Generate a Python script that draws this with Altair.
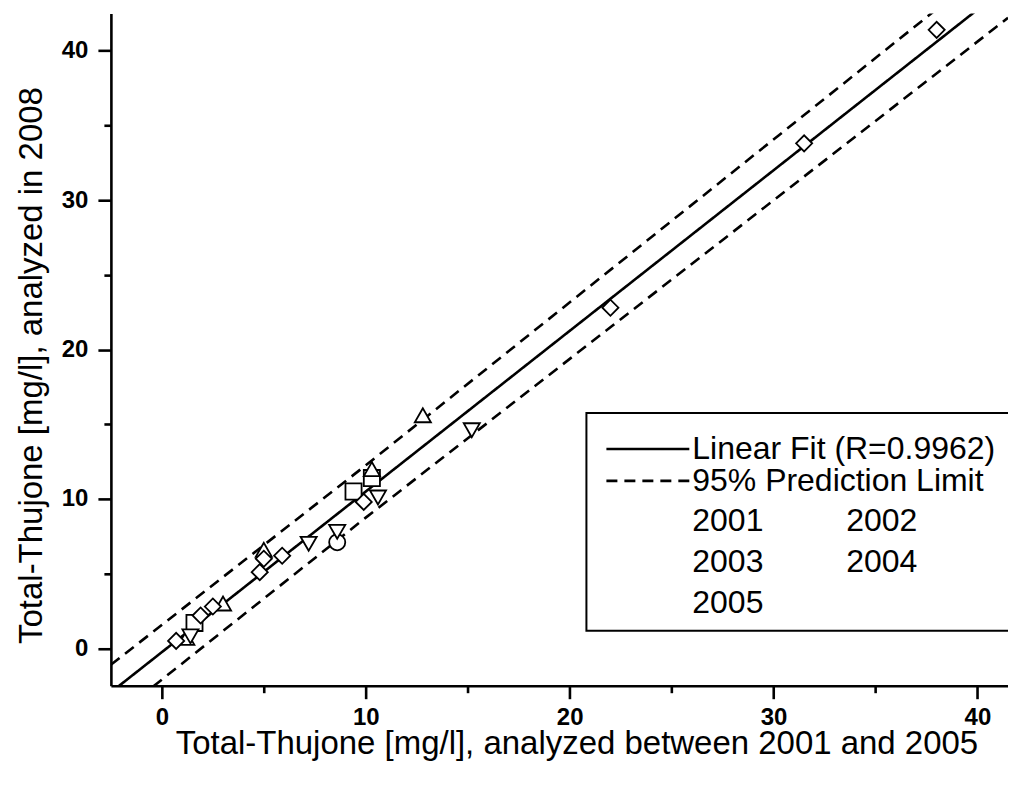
import altair as alt
import pandas as pd

# ---- data ----
LF = "Linear Fit (R=0.9962)"
PL = "95% Prediction Limit"

fit_x = [-2.5, 41.5]
fit_y = [-2.94, 44.36]
upper_x = [-2.5, 10.0, 41.5]
upper_y = [-1.1, 12.25, 46.6]
lower_x = [-2.5, 10.0, 41.5]
lower_y = [-4.8, 8.75, 42.2]

y2001_x = [9.4, 10.3, 1.6]
y2001_y = [10.5, 11.4, 1.7]
y2002_x = [8.6]
y2002_y = [7.1]
y2003_x = [12.8, 10.3, 5.0, 3.0, 1.2]
y2003_y = [15.6, 12.0, 6.6, 3.0, 0.7]
y2004_x = [15.2, 10.6, 8.6, 7.2, 1.4]
y2004_y = [14.6, 10.1, 7.8, 7.0, 0.8]
y2005_x = [38.0, 31.5, 22.0, 9.9, 5.9, 5.0, 4.8, 2.5, 1.9, 0.7]
y2005_y = [41.4, 33.8, 22.8, 9.8, 6.2, 6.0, 5.1, 2.8, 2.2, 0.5]

x_ticks = [0, 5, 10, 15, 20, 25, 30, 35, 40]
y_ticks = [0, 5, 10, 15, 20, 25, 30, 35, 40]

line_keys = [LF, PL]
line_dashes = [[1, 0], [11, 7]]

col1_keys = ["2001", "2003", "2005"]
col1_shapes = ["square", "triangle-up", "diamond"]
col2_keys = ["2002", "2004"]
col2_shapes = ["circle", "triangle-down"]

# ---- tables ----
line_rows = []
for xs, ys, series, part in [(fit_x, fit_y, LF, "fit"),
                             (upper_x, upper_y, PL, "upper"),
                             (lower_x, lower_y, PL, "lower")]:
    for a, b in zip(xs, ys):
        line_rows.append({"x": a, "y": b, "series": series, "part": part})
lines_df = pd.DataFrame(line_rows)


def year_table(groups):
    rows = []
    for name, xs, ys in groups:
        for a, b in zip(xs, ys):
            rows.append({"x": a, "y": b, "series": name})
    return pd.DataFrame(rows)


col1_df = year_table([("2001", y2001_x, y2001_y), ("2003", y2003_x, y2003_y),
                      ("2005", y2005_x, y2005_y)])
col2_df = year_table([("2002", y2002_x, y2002_y), ("2004", y2004_x, y2004_y)])

FONT = "Liberation Sans"

xscale = alt.Scale(domain=[-2.5, 41.5], nice=False, zero=False)
yscale = alt.Scale(domain=[-2.5, 42.5], nice=False, zero=False)

tick_cond = {"condition": {"test": "datum.value % 10 === 0", "value": 13}, "value": 7}
label_expr = "datum.value % 10 === 0 ? datum.label : ''"

x_axis = alt.Axis(values=x_ticks, labelExpr=label_expr, tickSize=tick_cond,
                  title="Total-Thujone [mg/l], analyzed between 2001 and 2005",
                  titleX=466, titleY=68, titleBaseline="alphabetic", titleAlign="center",
                  titleAnchor="start", labelPadding=7, grid=False)
y_axis = alt.Axis(values=y_ticks, labelExpr=label_expr, tickSize=tick_cond,
                  title="Total-Thujone [mg/l], analyzed in 2008",
                  titleX=-69, titleY=352, titleAngle=270, titleBaseline="alphabetic",
                  titleAlign="center", titleAnchor="start", labelPadding=10, grid=False)

# the boxed legend: line entries; a blank bottom title stretches the box down
line_legend = alt.Legend(
    title="\u00a0", titleOrient="bottom", titleFontSize=10, titlePadding=104,
    titleFont=FONT,
    orient="none", legendX=476, legendY=400,
    padding=20, rowPadding=-3, zindex=0,
    strokeColor="black", fillColor="white",
    symbolType="M-4.15,0H4.15", symbolSize=400,
    symbolOffset=25.5, labelOffset=28.5,
    symbolStrokeColor="black", symbolStrokeWidth=2.6, symbolOpacity=1,
    labelFont=FONT, labelFontSize=32, labelColor="black", labelLimit=1000,
)

common_legend = dict(
    title=None, orient="none", padding=0, rowPadding=9, symbolOffset=34, zindex=1,
    labelFont=FONT, labelFontSize=32, labelColor="black", labelLimit=1000,
    symbolSize=120, symbolStrokeColor="black", symbolStrokeWidth=1.8, symbolOpacity=1,
)

col1_legend = alt.Legend(legendX=485, legendY=492, labelOffset=31, **common_legend)
col2_legend = alt.Legend(legendX=642, legendY=492, labelOffset=28, **common_legend)

lines = alt.Chart(lines_df).mark_line(color="black", strokeWidth=2.6, clip=True).encode(
    x=alt.X("x:Q", scale=xscale, axis=x_axis),
    y=alt.Y("y:Q", scale=yscale, axis=y_axis),
    strokeDash=alt.StrokeDash("series:N",
                              scale=alt.Scale(domain=line_keys, range=line_dashes),
                              legend=line_legend),
    detail="part:N",
)

point_mark = dict(filled=False, fill="white", stroke="black", strokeWidth=1.8,
                  opacity=1, fillOpacity=1, size=260)

points1 = alt.Chart(col1_df).mark_point(**point_mark).encode(
    x=alt.X("x:Q", scale=xscale),
    y=alt.Y("y:Q", scale=yscale),
    shape=alt.Shape("series:N",
                    scale=alt.Scale(domain=col1_keys, range=col1_shapes),
                    legend=col1_legend),
)

points2 = alt.Chart(col2_df).mark_point(**point_mark).encode(
    x=alt.X("x:Q", scale=xscale),
    y=alt.Y("y:Q", scale=yscale),
    shape=alt.Shape("series:N",
                    scale=alt.Scale(domain=col2_keys, range=col2_shapes),
                    legend=col2_legend),
)

chart = alt.layer(lines, points1, points2).resolve_scale(
    shape="independent"
).properties(
    width=898, height=673,
    autosize=alt.AutoSizeParams(type="none"),
    padding={"left": 103, "top": 5, "right": 0, "bottom": 100},
    background="white",
).configure_view(stroke=None).configure_axis(
    domainColor="black", domainWidth=2.6, tickColor="black", tickWidth=2.6,
    labelFont=FONT, labelFontSize=24, labelColor="black", labelFontWeight="bold",
    titleFont=FONT, titleFontSize=33, titleColor="black", titleFontWeight="normal",
).configure_legend(strokeWidth=2, symbolStrokeColor="black")

chart.save("out.html", embed_options={"renderer": "svg", "actions": False})
